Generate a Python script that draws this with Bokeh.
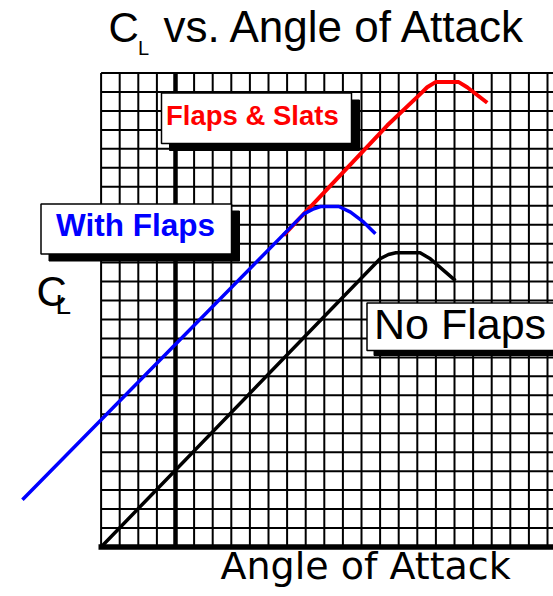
from bokeh.plotting import figure
from bokeh.models import Range1d
from bokeh.core.properties import value
from bokeh.embed import file_html
from bokeh.resources import INLINE

# ---------------- data (in grid cells) ----------------
series_names = ["No Flaps", "With Flaps", "Flaps & Slats"]

aoa_no_flaps = [-4.0, 11.0, 11.45, 11.85, 13.15, 13.7, 15.05]
cl_no_flaps = [0.0, 15.2, 15.43, 15.52, 15.52, 15.2, 14.05]

aoa_with_flaps = [-8.23, 6.90, 7.44, 7.80, 8.78, 9.41, 10.12, 10.75]
cl_with_flaps = [2.49, 17.57, 17.84, 17.96, 17.96, 17.66, 17.13, 16.52]

aoa_flaps_slats = [5.81, 11.38, 13.17, 13.53, 13.98, 15.23, 15.68, 16.76]
cl_flaps_slats = [16.43, 22.23, 23.90, 24.25, 24.52, 24.52, 24.25, 23.43]

grid_aoa = list(range(-4, 21))   # vertical grid lines
grid_cl = list(range(0, 26))     # horizontal grid lines

title_sym, title_sub, title_rest = "C", "L", "vs. Angle of Attack"
x_label = "Angle of Attack"
y_sym, y_sub = "C", "L"

# ---------------- layout helpers (reference pixels -> data) ----------------
CELL_W, CELL_H = 18.6, 18.96
ORIGIN_X, ORIGIN_Y = 175.0, 546.5
W, H = 553, 596
BASE_FIX = 0.38   # empirical baseline correction (fraction of font size)


def X(rx):
    return (rx - ORIGIN_X) / CELL_W


def Y(ry):
    return (ORIGIN_Y - ry) / CELL_H


p = figure(width=W, height=H,
           x_range=Range1d(X(0), X(W)),
           y_range=Range1d(Y(H), Y(0)),
           output_backend="svg", toolbar_location=None,
           x_axis_type=None, y_axis_type=None, min_border=0)
p.outline_line_color = None
p.background_fill_color = "white"
p.border_fill_color = "white"

gx0, gx1 = min(grid_aoa), X(570)
gy0, gy1 = min(grid_cl), max(grid_cl)

# grid
p.segment(x0=grid_aoa, y0=[gy0] * len(grid_aoa), x1=grid_aoa, y1=[gy1] * len(grid_aoa),
          line_color="black", line_width=2)
p.segment(x0=[gx0] * len(grid_cl), y0=grid_cl, x1=[gx1] * len(grid_cl), y1=grid_cl,
          line_color="black", line_width=2)
# thick axes
p.segment(x0=[0], y0=[gy0], x1=[0], y1=[gy1], line_color="black", line_width=4.5)
p.segment(x0=[X(98)], y0=[0], x1=[gx1], y1=[0], line_color="black", line_width=5.5)

# curves
p.line(aoa_no_flaps, cl_no_flaps, line_color="black", line_width=3.5, line_join="round")
p.line(aoa_flaps_slats, cl_flaps_slats, line_color="#ff0000", line_width=4, line_join="round")
p.line(aoa_with_flaps, cl_with_flaps, line_color="#0000ff", line_width=3.5, line_join="round")


def label_box(l, t, r, b, ox, oy):
    p.quad(left=[X(l + ox)], right=[X(r + ox)], top=[Y(t + oy)], bottom=[Y(b + oy)],
           fill_color="black", line_color="black", line_width=1)
    p.quad(left=[X(l)], right=[X(r)], top=[Y(t)], bottom=[Y(b)],
           fill_color="white", line_color="black", line_width=1.5)


def txt(rx, ry, s, size, color="black", font="Liberation Sans", style="normal"):
    p.text(x=[X(rx)], y=[Y(ry - BASE_FIX * size)], text=[s], text_color=color,
           text_font=value(font), text_font_size=value(f"{size}px"),
           text_font_style=style, text_align="left", text_baseline="alphabetic")


label_box(161, 92.5, 351, 143, 8, 7)
label_box(40.5, 203.5, 231, 253.5, 8, 7)
label_box(366.5, 302.5, 600, 350, 7, 5)

txt(165.5, 125, series_names[2], 27.5, color="#ff0000", style="bold")
txt(55.5, 236.5, series_names[1], 31.5, color="#0000ff", style="bold")
txt(373.5, 340, series_names[0], 43)

# title
txt(108, 43, title_sym, 42)
txt(137.5, 55, title_sub, 20)
txt(163, 43, title_rest, 44)

# y label
txt(36, 306.5, y_sym, 42)
txt(55, 315, y_sub, 28)

# x label
txt(220, 580, x_label, 38, font="DejaVu Sans")

open("out.html", "w").write(file_html(p, INLINE))
